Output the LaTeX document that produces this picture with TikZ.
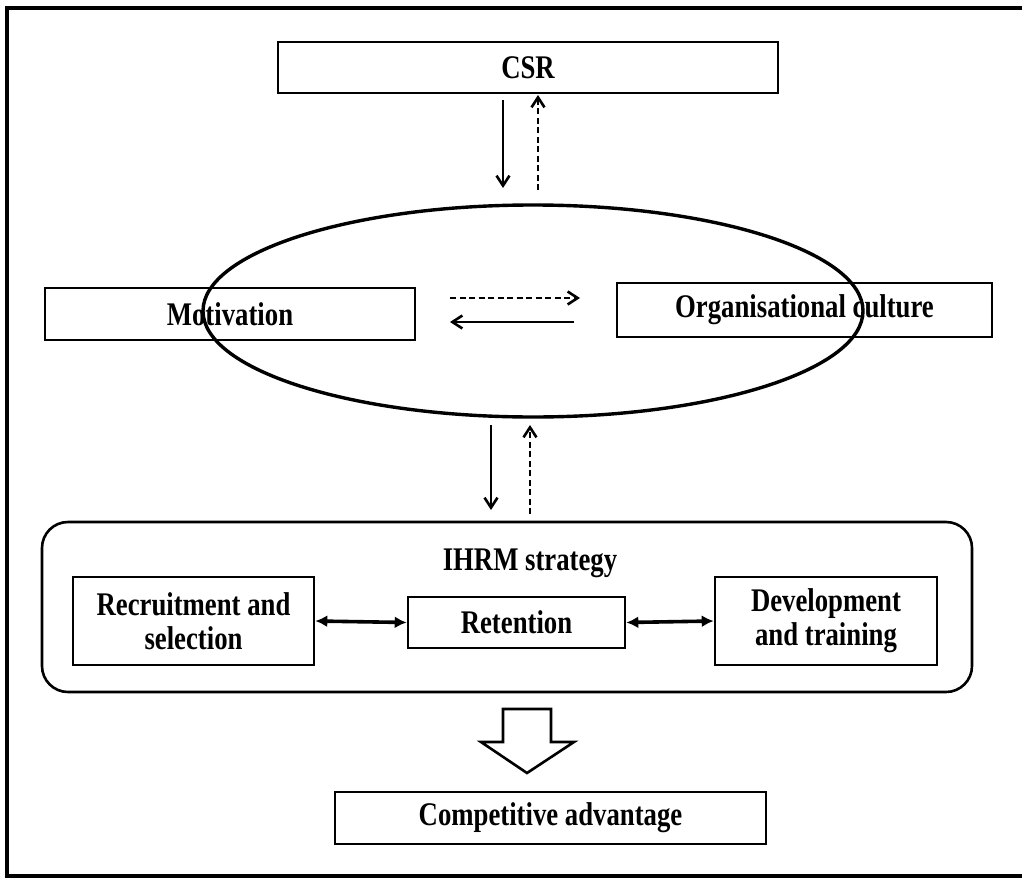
\documentclass[tikz,border=0pt]{standalone}
\usepackage{fontspec}
\setmainfont{Liberation Serif}[FakeStretch=0.81]
\usetikzlibrary{arrows.meta,shapes.geometric}
\begin{document}
\begin{tikzpicture}[x=1pt,y=-1pt,
  every node/.style={font=\bfseries\fontsize{33}{34}\selectfont},
  box/.style={draw,line width=2.6pt,inner sep=0pt,align=center},
  solidarrow/.style={line width=2.6pt,-{Straight Barb[length=10pt,width=13pt,line width=2.6pt]}},
  dasharrow/.style={solidarrow,dash pattern=on 6pt off 3.5pt},
  dblarrow/.style={line width=3.6pt,{Latex[length=12pt,width=12pt]}-{Latex[length=12pt,width=12pt]}}]
\useasboundingbox (0,0) rectangle (1022,883);
% open frame: top, left and bottom rules
\draw[line width=3.2pt] (1022,8) -- (7,8) -- (7,876) -- (1022,876);

% top level
\node[box,minimum width=500pt,minimum height=51pt] (csr) at (528,67.5) {CSR};

% motivation / culture pair with the enclosing ellipse
\node[box,minimum width=370pt,minimum height=52pt] (mot) at (230,314) {Motivation};
\node[box,minimum width=375pt,minimum height=54pt] (org) at (804.5,310) {Organisational culture};
\node[draw,ellipse,line width=3.4pt,minimum width=660pt,minimum height=212pt,inner sep=0pt] (ell) at (533,311) {};

% CSR <-> ellipse
\coordinate (a1) at (503,100); \coordinate (a2) at (503,188);
\coordinate (b1) at (538,190); \coordinate (b2) at (538,95);
\draw[solidarrow] (a1) -- (a2);
\draw[dasharrow] (b1) -- (b2);

% motivation <-> culture
\coordinate (m1) at (450,298); \coordinate (m2) at (580,298);
\coordinate (n1) at (574,322); \coordinate (n2) at (450,322);
\draw[dasharrow] (m1) -- (m2);
\draw[solidarrow] (n1) -- (n2);

% IHRM block
\node[box,rounded corners=26pt,minimum width=930pt,minimum height=170pt] (ihrm) at (507,607) {};
\node (ihrmt) at (530,563) {IHRM strategy};
\node[box,minimum width=241pt,minimum height=88pt] (rec) at (193.5,621) {Recruitment and\\selection};
\node[box,minimum width=217pt,minimum height=51pt] (ret) at (516.5,622.5) {Retention};
\node[box,minimum width=222pt,minimum height=88pt] (dev) at (826,621) {Development\\and training};
\draw[dblarrow] (rec.east) -- (ret.west);
\draw[dblarrow] (ret.east) -- (dev.west);

% ellipse <-> IHRM
\coordinate (e1) at (491,425); \coordinate (e2) at (491,510);
\coordinate (f1) at (530,514); \coordinate (f2) at (530,425);
\draw[solidarrow] (e1) -- (e2);
\draw[dasharrow] (f1) -- (f2);

% outcome
\node[box,minimum width=431pt,minimum height=52pt] (comp) at (550.5,818) {Competitive advantage};
\draw[line width=2.6pt,line join=miter]
  (503,709) -- (551,709) -- (551,742) -- (574,742) -- (527,773) -- (481,742) -- (503,742) -- cycle;
\end{tikzpicture}
\end{document}
